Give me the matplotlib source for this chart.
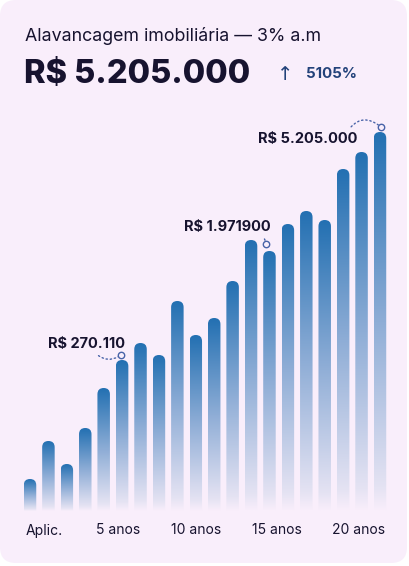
import numpy as np
import matplotlib.pyplot as plt
from matplotlib.patches import FancyBboxPatch
from matplotlib.colors import LinearSegmentedColormap

plt.rcParams['font.family'] = ['Inter', 'DejaVu Sans']

# dados (altura relativa das barras)
valores = [32, 70, 47, 83, 123, 151, 168, 156, 210, 176,
           193, 230, 271, 260, 287, 300, 291, 342, 359, 379]
rotulos_x = ['Aplic.', '5 anos', '10 anos', '15 anos', '20 anos']
pos_rotulos = [0.8, 4.8, 9.0, 13.4, 17.85]
destaques = [5, 13, 19]
textos_destaque = ['R$ 270.110', 'R$ 1.971900', 'R$ 5.205.000']
titulo = 'Alavancagem imobiliária — 3% a.m'
total = 'R$ 5.205.000'
variacao = '5105%'

W, H = 410, 566
CARD = '#F9EEFB'
ESCURO = '#17132F'
AZUL = '#23427A'
LINHA = '#4863A8'

fig = plt.figure(figsize=(W / 100, H / 100), dpi=100)
fig.patch.set_facecolor('white')

# fundo / cartão em coordenadas de pixel
bg = fig.add_axes([0, 0, 1, 1])
bg.set_xlim(0, W)
bg.set_ylim(H, 0)
bg.axis('off')
bg.add_patch(FancyBboxPatch((0, 0), 407, 563, boxstyle='round,pad=0,rounding_size=16',
                            fc=CARD, ec='none'))

bg.text(25, 41, titulo, fontsize=12.8, color=ESCURO, va='baseline', ha='left')
bg.text(24, 83, total, fontsize=23.5, fontweight='heavy', color=ESCURO, va='baseline', ha='left')
bg.text(285, 80, '↑', fontsize=14, color=AZUL, va='baseline', ha='center',
        family=['DejaVu Sans'])
bg.text(306, 78.5, variacao, fontsize=10.8, fontweight='bold', color=AZUL, va='baseline', ha='left')

# área das barras
esq, dir_, base, topo = 20, 390, 511, 111
passo = 18.42
ax = fig.add_axes([esq / W, (H - base) / H, (dir_ - esq) / W, (base - topo) / H])
ax.set_facecolor('none')
x0 = (esq - 30) / passo
x1 = (dir_ - 30) / passo
for s in ax.spines.values():
    s.set_visible(False)
ax.set_yticks([])

cmap = LinearSegmentedColormap.from_list('grad', [
    (0.0, CARD), (0.06, '#E5E3F3'), (0.5, '#8EADD6'), (1.0, '#2370B2')])
grad = np.linspace(0, 1, 256).reshape(-1, 1)

larg = 12.5 / passo
for i, v in enumerate(valores):
    caixa = FancyBboxPatch((i - larg / 2, -30), larg, v + 30,
                           boxstyle=f'round,pad=0,rounding_size={larg / 2}',
                           mutation_aspect=passo, fc='none', ec='none')
    ax.add_patch(caixa)
    im = ax.imshow(grad, cmap=cmap, origin='lower', aspect='auto',
                   extent=[i - larg / 2, i + larg / 2, 0, v], interpolation='bilinear')
    im.set_clip_path(caixa)

ax.set_xlim(x0, x1)
ax.set_ylim(0, base - topo)

# destaques com linha pontilhada
desloc = [(-1, 5), (-3.7, 7), (1, 5)]
texto_off = [(-25.2, 5.0), (-27.4, 9.4), (-52.9, -11.3)]
relpos = [(0.6, 0.0), (0.86, 0.0), (0.9, 1.0)]
rads = [0.45, -0.3, -0.55]
for k, i in enumerate(destaques):
    cx = i + desloc[k][0] / passo
    cy = valores[i] + desloc[k][1]
    ax.plot(cx, cy, 'o', ms=4.6, mfc=CARD, mec=LINHA, mew=1.0, zorder=5)
    ax.annotate(textos_destaque[k], xy=(cx, cy), xytext=texto_off[k],
                textcoords='offset points', ha='center', va='baseline',
                fontsize=10.5, fontweight='bold', color=ESCURO,
                arrowprops=dict(arrowstyle='-', color=LINHA, lw=1, ls=(0, (1, 2)),
                                relpos=relpos[k], shrinkA=2, shrinkB=2.5,
                                connectionstyle=f'arc3,rad={rads[k]}'))

ax.set_xticks(pos_rotulos)
ax.set_xticklabels(rotulos_x, fontsize=10, color=ESCURO)
ax.tick_params(axis='x', length=0, pad=9)

fig.savefig('out.png', dpi=100, facecolor='white')
